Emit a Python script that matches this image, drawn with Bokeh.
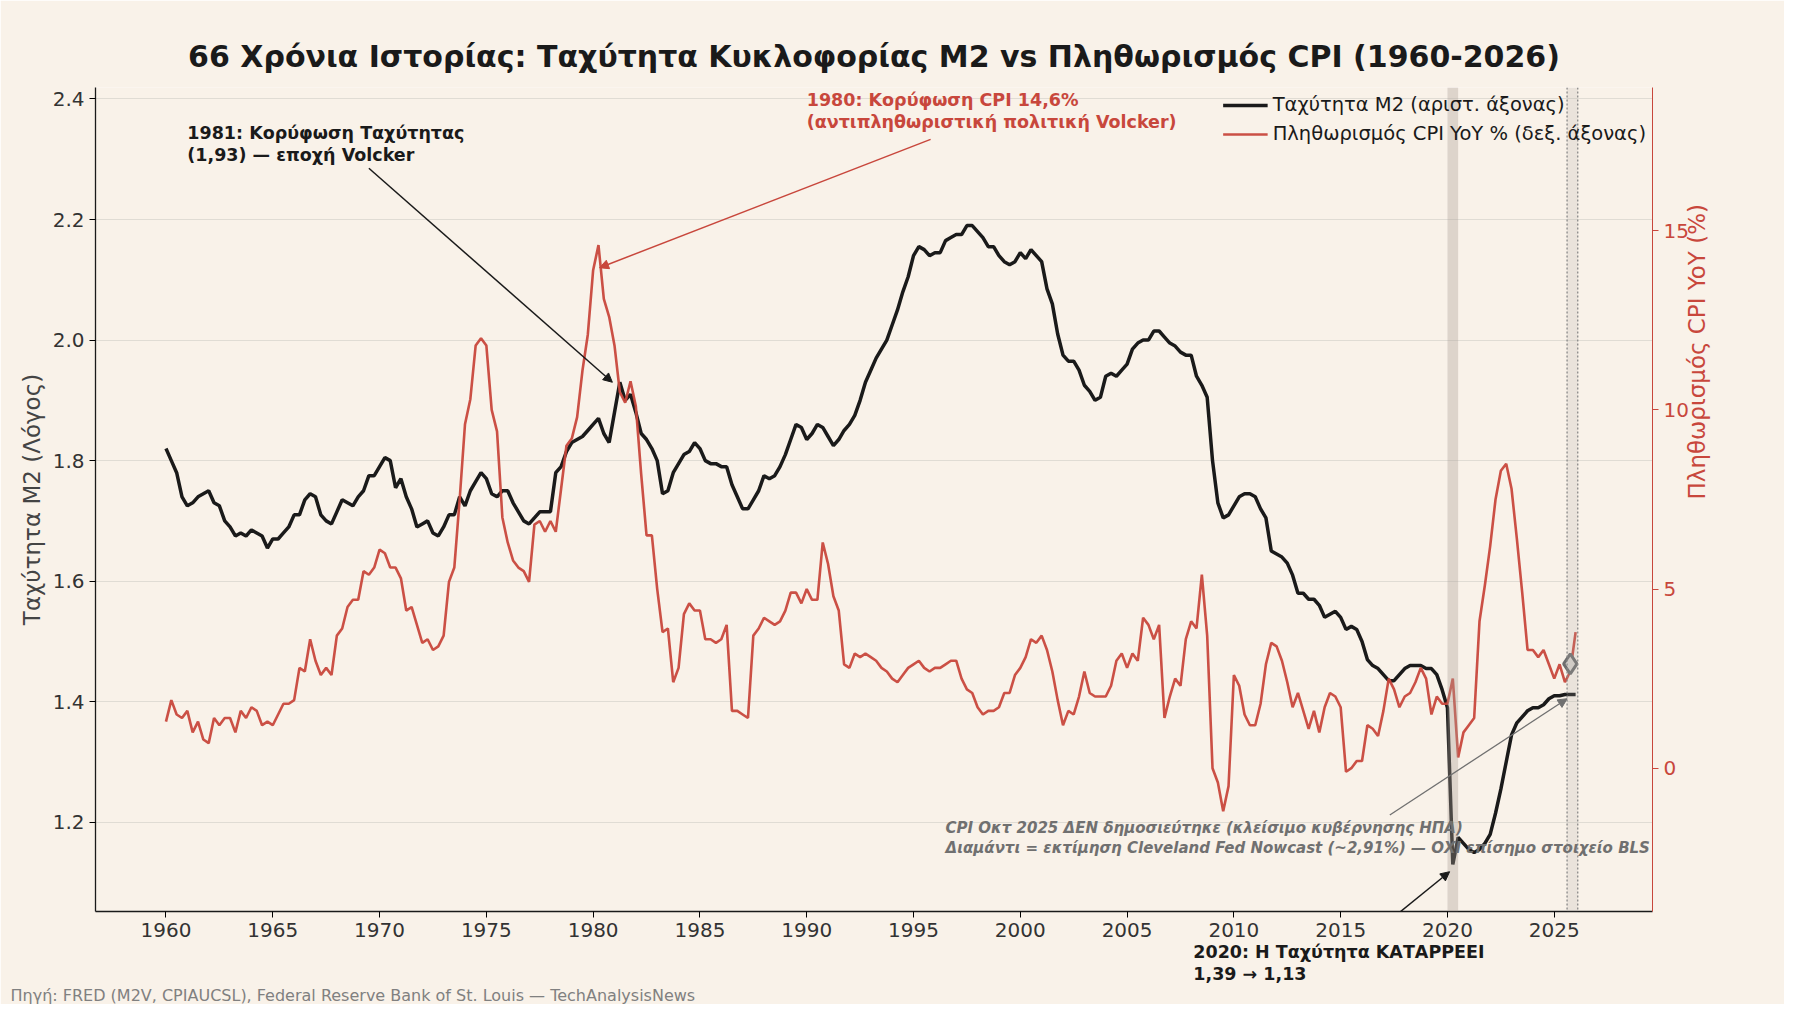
import math
from bokeh.plotting import figure
from bokeh.models import (Range1d, LinearAxis, Label, Arrow, NormalHead, Legend, LegendItem,
                          BoxAnnotation, Span, FixedTicker, NumeralTickFormatter, Title)
from bokeh.embed import file_html
from bokeh.resources import INLINE

years = list(range(1960, 2026))
velocity_q = [
1.82,1.80,1.78,1.74, 1.725,1.73,1.74,1.745, 1.75,1.73,1.725,1.70, 1.69,1.675,1.68,1.675,
1.685,1.68,1.675,1.655, 1.67,1.67,1.68,1.69, 1.71,1.71,1.735,1.745, 1.74,1.71,1.70,1.695,
1.715,1.735,1.73,1.725, 1.74,1.75,1.775,1.775, 1.79,1.805,1.80,1.755, 1.77,1.74,1.72,1.69,
1.695,1.70,1.68,1.675, 1.69,1.71,1.71,1.74, 1.725,1.75,1.765,1.78, 1.77,1.745,1.74,1.75,
1.75,1.73,1.715,1.70, 1.695,1.705,1.715,1.715, 1.715,1.78,1.79,1.815, 1.83,1.835,1.84,1.85,
1.86,1.87,1.845,1.83, 1.88,1.93,1.90,1.91, 1.88,1.845,1.835,1.82, 1.80,1.745,1.75,1.78,
1.795,1.81,1.815,1.83, 1.82,1.80,1.795,1.795, 1.79,1.79,1.76,1.74, 1.72,1.72,1.735,1.75,
1.775,1.77,1.775,1.79, 1.81,1.835,1.86,1.855, 1.835,1.845,1.86,1.855, 1.84,1.825,1.835,1.85,
1.86,1.875,1.90,1.93, 1.95,1.97,1.985,2.0, 2.025,2.05,2.08,2.105, 2.14,2.155,2.15,2.14,
2.145,2.145,2.165,2.17, 2.175,2.175,2.19,2.19, 2.18,2.17,2.155,2.155, 2.14,2.13,2.125,2.13,
2.145,2.135,2.15,2.14, 2.13,2.085,2.06,2.01, 1.975,1.965,1.965,1.95, 1.925,1.915,1.90,1.905,
1.94,1.945,1.94,1.95, 1.96,1.985,1.995,2.0, 2.0,2.015,2.015,2.005, 1.995,1.99,1.98,1.975,
1.975,1.94,1.925,1.905, 1.80,1.73,1.705,1.71, 1.725,1.74,1.745,1.745, 1.74,1.72,1.705,1.65,
1.645,1.64,1.63,1.61, 1.58,1.58,1.57,1.57, 1.56,1.54,1.545,1.55, 1.54,1.52,1.525,1.52,
1.50,1.47,1.46,1.455, 1.445,1.435,1.435,1.445, 1.455,1.46,1.46,1.46, 1.455,1.455,1.445,1.42,
1.39,1.13,1.175,1.165, 1.155,1.15,1.155,1.165, 1.18,1.215,1.255,1.30, 1.345,1.365,1.375,1.385,
1.39,1.39,1.395,1.405, 1.41,1.41,1.412,1.412, 1.412]
cpi_q = [
1.3,1.9,1.5,1.4, 1.6,1.0,1.3,0.8, 0.7,1.4,1.2,1.4, 1.4,1.0,1.6,1.4, 1.7,1.6,1.2,1.3,
1.2,1.5,1.8,1.8, 1.9,2.8,2.7,3.6, 3.0,2.6,2.8,2.6, 3.7,3.9,4.5,4.7, 4.7,5.5,5.4,5.6,
6.1,6.0,5.6,5.6, 5.3,4.4,4.5,4.0, 3.5,3.6,3.3,3.4, 3.7,5.2,5.6,7.5, 9.6,10.3,11.8,12.0,
11.8,10.0,9.4,7.0, 6.3,5.8,5.6,5.5, 5.2,6.8,6.9,6.6, 6.9,6.6,7.8,9.0, 9.2,9.8,11.1,12.1,
13.9,14.6,13.1,12.6, 11.8,10.5,10.2,10.8, 10.1,8.2,6.5,6.5, 5.0,3.8,3.9,2.4, 2.8,4.3,4.6,4.4,
4.4,3.6,3.6,3.5, 3.6,4.0,1.6,1.6, 1.5,1.4,3.7,3.9, 4.2,4.1,4.0,4.1, 4.4,4.9,4.9,4.6,
5.0,4.7,4.7,6.3, 5.7,4.8,4.4,2.9, 2.8,3.2,3.1,3.2, 3.1,3.0,2.8,2.7, 2.5,2.4,2.6,2.8,
2.9,3.0,2.8,2.7, 2.8,2.8,2.9,3.0, 3.0,2.5,2.2,2.1, 1.7,1.5,1.6,1.6, 1.7,2.1,2.1,2.6,
2.8,3.1,3.6,3.5, 3.7,3.3,2.7,1.9, 1.2,1.6,1.5,2.0, 2.7,2.1,2.0,2.0, 2.0,2.3,3.0,3.2,
2.8,3.2,3.0,4.2, 4.0,3.6,4.0,1.4, 2.0,2.5,2.3,3.6, 4.1,3.9,5.4,3.7, 0.0,-0.4,-1.2,-0.5,
2.6,2.3,1.5,1.2, 1.2,1.8,2.9,3.5, 3.4,3.0,2.4,1.7, 2.1,1.6,1.1,1.6, 1.0,1.7,2.1,2.0,
1.7,-0.1,0.0,0.2, 0.2,1.2,1.1,0.9, 1.6,2.5,2.2,1.7, 2.0,2.1,2.4,2.8, 2.5,1.5,2.0,1.8,
1.8,2.5,0.3,1.0, 1.2,1.4,4.1,5.1, 6.2,7.5,8.3,8.5, 7.8,6.4,4.9,3.3, 3.3,3.1,3.3,2.9,
2.5,2.9,2.4,2.7, 3.8]
nowcast_date = 2025.75
nowcast_value = 2.91
x_ticks = list(range(1960, 2030, 5))

vx = [1960 + i * 0.25 for i in range(len(velocity_q))]
cx = [1960 + i * 0.25 for i in range(len(cpi_q))]

BG = "#f9f2e9"
RED = "#c8473c"
FONT = "DejaVu Sans"

X0, X1 = 1956.7, 2029.6
Y0, Y1 = 1.052, 2.419
W, H = 1784, 1004
BL, BR, BT = 95, 132, 87
FW = W - BL - BR

def sx(x):
    return (x - X0) / (X1 - X0) * FW

p = figure(width=W, height=H, output_backend="svg", toolbar_location=None,
           x_range=Range1d(X0, X1), y_range=Range1d(Y0, Y1),
           background_fill_color=BG, border_fill_color=BG,
           min_border_left=BL, min_border_right=BR, min_border_top=BT, min_border_bottom=0)
p.outline_line_color = None
p.title.text = "66 Χρόνια Ιστορίας: Ταχύτητα Κυκλοφορίας M2 vs Πληθωρισμός CPI (1960-2026)"
p.title.align = "center"
p.title.text_font = FONT
p.title.text_font_size = "30px"
p.title.text_color = "#1a1a1a"
p.title.standoff = 28
p.extra_y_ranges = {"cpi": Range1d(-4.0, 19.0)}

p.xgrid.visible = False
p.ygrid.grid_line_color = "#e0dcd4"
p.ygrid.grid_line_width = 1

for ax in [p.xaxis[0], p.yaxis[0]]:
    ax.major_label_text_font = FONT
    ax.major_label_text_font_size = "20px"
    ax.major_label_text_color = "#333333"
    ax.axis_line_color = "#1a1a1a"
    ax.axis_line_width = 1.3
    ax.minor_tick_line_color = None
    ax.major_tick_out = 6
    ax.major_tick_in = 0
p.xaxis.ticker = FixedTicker(ticks=x_ticks)
p.yaxis.ticker = FixedTicker(ticks=[1.2, 1.4, 1.6, 1.8, 2.0, 2.2, 2.4])
p.yaxis.formatter = NumeralTickFormatter(format="0.0")
p.yaxis.axis_label = "Ταχύτητα M2 (Λόγος)"
p.yaxis.axis_label_text_font = FONT
p.yaxis.axis_label_text_font_style = "normal"
p.yaxis.axis_label_text_font_size = "23px"

ra = LinearAxis(y_range_name="cpi", ticker=FixedTicker(ticks=[0, 5, 10, 15]),
                axis_label="Πληθωρισμός CPI YoY (%)")
ra.axis_label_orientation = math.pi / 2
ra.axis_label_text_font = FONT
ra.axis_label_text_font_style = "normal"
ra.axis_label_text_font_size = "23px"
ra.axis_label_text_color = RED
ra.major_label_text_color = RED
ra.major_label_text_font = FONT
ra.major_label_text_font_size = "20px"
ra.axis_line_color = RED
ra.major_tick_line_color = RED
ra.minor_tick_line_color = None
ra.major_tick_in = 0
ra.major_tick_out = 6
p.add_layout(ra, "right")

p.add_layout(BoxAnnotation(left=2020.0, right=2020.5, fill_color="#a89e94", fill_alpha=0.35, line_color=None))
p.add_layout(BoxAnnotation(left=2025.6, right=2026.1, fill_color="#b0aaa4", fill_alpha=0.2, line_color=None))
for xx in [2025.6, 2026.1]:
    p.add_layout(Span(location=xx, dimension="height", line_color="#888888", line_dash="2 2", line_width=1.3))

lv = p.line(vx, velocity_q, line_color="#1a1a1a", line_width=3.5)
lc = p.line(cx, cpi_q, line_color=RED, line_width=2.6, y_range_name="cpi", line_alpha=0.95)
p.scatter([nowcast_date], [nowcast_value], marker="diamond", size=20, fill_color="#d9d4ce",
          line_color="#6e6e6e", line_width=3, y_range_name="cpi")

leg = Legend(items=[LegendItem(label="Ταχύτητα M2 (αριστ. άξονας)", renderers=[lv]),
                    LegendItem(label="Πληθωρισμός CPI YoY % (δεξ. άξονας)", renderers=[lc])],
             location="top_right", background_fill_alpha=0, border_line_color=None,
             label_text_font=FONT, label_text_font_size="19.5px", glyph_width=45,
             spacing=6, margin=6, label_text_color="#1a1a1a")
p.add_layout(leg)

def note(x, y, text, color, style="bold", size="17.5px", rng="default"):
    p.add_layout(Label(x=x, y=y, text=text, text_color=color, text_font=FONT,
                       text_font_style=style, text_font_size=size, y_range_name=rng,
                       text_baseline="top", text_line_height=1.1))

def arrow(x0, y0, x1, y1, color, rng="default", w=1.5):
    p.add_layout(Arrow(x_start=x0, y_start=y0, x_end=x1, y_end=y1, line_color=color, line_width=w,
                       y_range_name=rng,
                       end=NormalHead(size=9, fill_color=color, line_color=color, line_width=1)))

note(1961.0, 2.36, "1981: Κορύφωση Ταχύτητας\n(1,93) — εποχή Volcker", "#1a1a1a")
arrow(1969.5, 2.285, 1980.9, 1.93, "#1a1a1a")
note(1990.0, 2.415, "1980: Κορύφωση CPI 14,6%\n(αντιπληθωριστική πολιτική Volcker)", RED)
arrow(1995.8, 2.333, 1980.3, 2.12, RED)
note(1996.5, 1.205, "CPI Οκτ 2025 ΔΕΝ δημοσιεύτηκε (κλείσιμο κυβέρνησης ΗΠΑ)\nΔιαμάντι = εκτίμηση Cleveland Fed Nowcast (~2,91%) — ΟΧΙ επίσημο στοιχείο BLS",
     "#707070", style="bold italic", size="15px")
arrow(2017.3, 1.212, 2025.6, 1.405, "#707070", w=1.3)
arrow(2016.0, 1.0, 2020.1, 1.118, "#1a1a1a")

def below(text, size, color, bold, offset, standoff):
    t = Title(text=text, align="left", offset=offset, text_font=FONT, text_font_size=size,
              text_color=color, text_font_style="bold" if bold else "normal", standoff=standoff)
    p.add_layout(t, "below")

below("2020: Η Ταχύτητα ΚΑΤΑΡΡΕΕΙ", "17.5px", "#1a1a1a", True, sx(2008.1), 0)
below("1,39 → 1,13", "17.5px", "#1a1a1a", True, sx(2008.1), 0)
below("Πηγή: FRED (M2V, CPIAUCSL), Federal Reserve Bank of St. Louis — TechAnalysisNews",
      "16px", "#808080", False, -85, 0)

open("out.html", "w").write(file_html(p, INLINE))
